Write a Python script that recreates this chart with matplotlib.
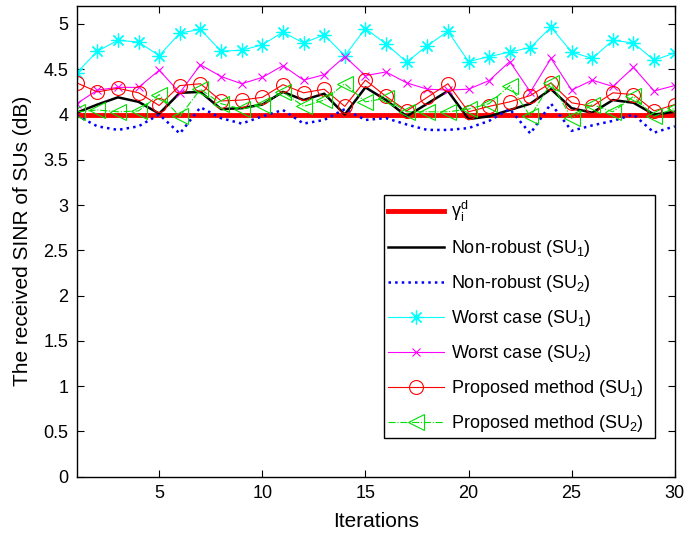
import numpy as np
import matplotlib
matplotlib.use('Agg')
import matplotlib.pyplot as plt

plt.rcParams['font.family'] = ['Liberation Sans', 'DejaVu Sans']
plt.rcParams['mathtext.fontset'] = 'custom'
plt.rcParams['mathtext.rm'] = 'Liberation Sans'
plt.rcParams['mathtext.it'] = 'Liberation Sans'
plt.rcParams['mathtext.sf'] = 'Liberation Sans'

# Dane
iterations = list(range(1, 31))
gamma_d = [4.0] * 30

nonrobust_su1 = [4.02, 4.11, 4.19, 4.14, 4.01, 4.24, 4.25, 4.06, 4.07, 4.11,
                 4.25, 4.16, 4.23, 4.00, 4.30, 4.16, 3.98, 4.12, 4.26, 3.95,
                 3.98, 4.05, 4.12, 4.28, 4.07, 4.02, 4.16, 4.13, 4.00, 4.03]
nonrobust_su2 = [3.99, 3.87, 3.83, 3.87, 4.00, 3.79, 4.08, 3.96, 3.90, 3.98,
                 4.05, 3.90, 3.94, 4.06, 3.94, 3.96, 3.89, 3.83, 3.83, 3.85,
                 3.93, 4.06, 3.79, 4.12, 3.82, 3.88, 3.93, 4.00, 3.80, 3.87]
worst_su1 = [4.46, 4.70, 4.82, 4.80, 4.65, 4.90, 4.94, 4.70, 4.71, 4.77,
             4.91, 4.79, 4.88, 4.65, 4.95, 4.78, 4.58, 4.76, 4.92, 4.585,
             4.64, 4.69, 4.74, 4.965, 4.69, 4.62, 4.82, 4.79, 4.60, 4.68]
worst_su2 = [4.12, 4.27, 4.30, 4.30, 4.49, 4.24, 4.55, 4.42, 4.34, 4.41,
             4.54, 4.38, 4.44, 4.64, 4.43, 4.47, 4.35, 4.28, 4.27, 4.28,
             4.375, 4.585, 4.25, 4.62, 4.27, 4.38, 4.31, 4.52, 4.26, 4.32]
proposed_su1 = [4.35, 4.25, 4.29, 4.24, 4.10, 4.32, 4.34, 4.15, 4.16, 4.19,
                4.33, 4.24, 4.28, 4.09, 4.38, 4.20, 4.04, 4.19, 4.34, 4.03,
                4.09, 4.14, 4.21, 4.35, 4.13, 4.09, 4.24, 4.22, 4.04, 4.11]
proposed_su2 = [4.03, 4.05, 4.03, 4.04, 4.22, 3.98, 4.28, 4.12, 4.06, 4.11,
                4.25, 4.09, 4.16, 4.34, 4.14, 4.18, 4.03, 4.03, 4.03, 4.06,
                4.12, 4.32, 3.98, 4.35, 3.96, 4.11, 4.03, 4.20, 3.98, 4.07]

fig = plt.figure(figsize=(6.85, 5.35), dpi=100)
ax = fig.add_axes([0.112, 0.109, 0.873, 0.880])

ax.plot(iterations, gamma_d, color='red', linewidth=3.5, label=r'$\gamma_i^d$')
ax.plot(iterations, nonrobust_su1, color='black', linewidth=1.8,
        label=r'Non-robust (SU$_1$)')
ax.plot(iterations, nonrobust_su2, color='blue', linestyle=':', linewidth=1.8,
        label=r'Non-robust (SU$_2$)')
ax.plot(iterations, worst_su1, color='cyan', linewidth=0.8, marker=(8, 2, 0),
        markersize=10, markeredgewidth=0.9, label=r'Worst case (SU$_1$)')
ax.plot(iterations, worst_su2, color='magenta', linewidth=0.8, marker='x',
        markersize=6, markeredgewidth=0.8, label=r'Worst case (SU$_2$)')
ax.plot(iterations, proposed_su1, color='red', linewidth=0.8, marker='o',
        markersize=10, markerfacecolor='none', markeredgewidth=0.8,
        label=r'Proposed method (SU$_1$)')
ax.plot(iterations, proposed_su2, color='#00e000', linewidth=0.8, linestyle='-.',
        marker='<', markersize=11, markerfacecolor='none', markeredgewidth=0.8,
        label=r'Proposed method (SU$_2$)')

ax.set_xlim(1, 30)
ax.set_ylim(0, 5.2)
ax.set_xticks([5, 10, 15, 20, 25, 30])
ax.set_yticks(np.arange(0, 5.01, 0.5))
ax.set_yticklabels(['0', '0.5', '1', '1.5', '2', '2.5', '3', '3.5', '4', '4.5', '5'])
ax.tick_params(direction='in', top=True, right=True, labelsize=13, length=5,
               width=0.8, pad=6)
for s in ax.spines.values():
    s.set_linewidth(1.0)

ax.set_xlabel('Iterations', fontsize=15, labelpad=7)
ax.set_ylabel('The received SINR of SUs (dB)', fontsize=15, labelpad=8)

leg = ax.legend(loc='lower left', bbox_to_anchor=(0.514, 0.082, 0.453, 0.516),
                mode='expand', fontsize=13, handlelength=3.1, labelspacing=0.78,
                borderpad=0.2, handletextpad=0.4, fancybox=False, framealpha=1,
                edgecolor='black', borderaxespad=0)
leg.get_frame().set_linewidth(1.0)

fig.savefig('out.png', dpi=100)
